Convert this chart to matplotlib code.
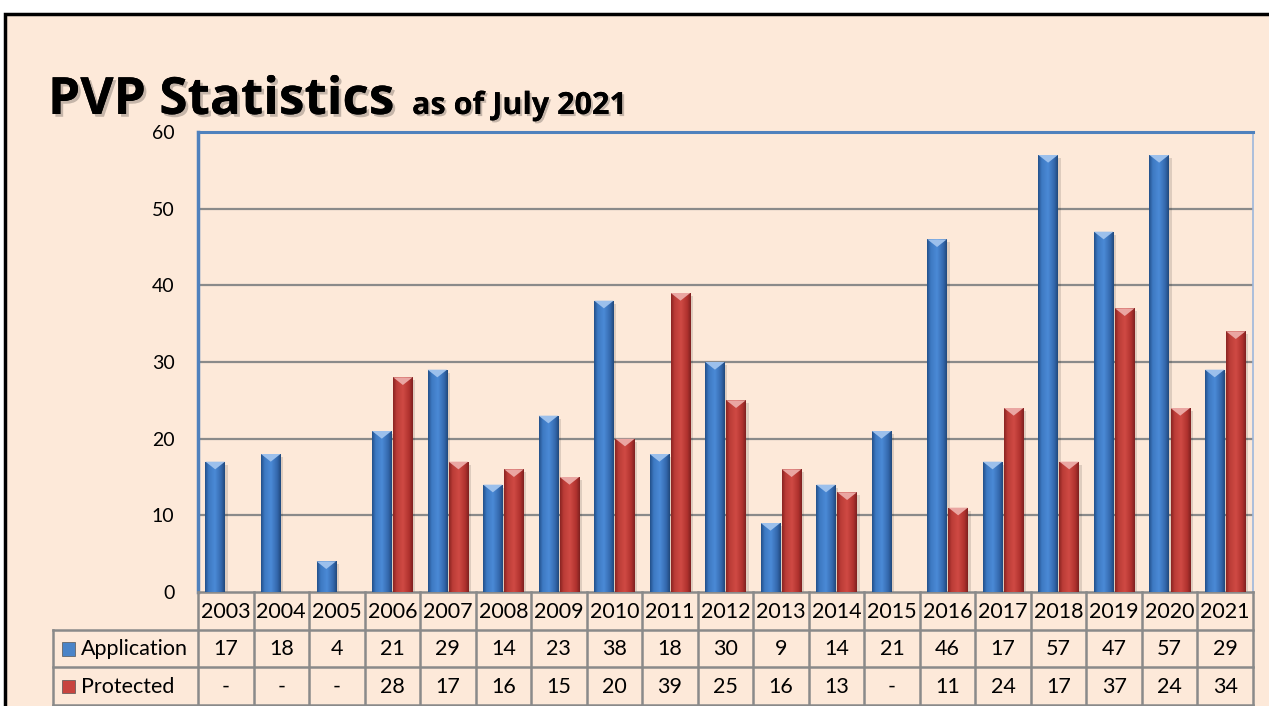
import matplotlib
matplotlib.use("Agg")
import matplotlib.pyplot as plt
import matplotlib.patheffects as pe
from matplotlib.colors import LinearSegmentedColormap
from matplotlib.patches import Rectangle, Polygon
import numpy as np

plt.rcParams["font.family"] = ["Lato", "DejaVu Sans"]

years = ["2003", "2004", "2005", "2006", "2007", "2008", "2009", "2010", "2011", "2012",
         "2013", "2014", "2015", "2016", "2017", "2018", "2019", "2020", "2021"]
application = [17, 18, 4, 21, 29, 14, 23, 38, 18, 30, 9, 14, 21, 46, 17, 57, 47, 57, 29]
protected = [None, None, None, 28, 17, 16, 15, 20, 39, 25, 16, 13, None, 11, 24, 17, 37, 24, 34]
series_names = ["Application", "Protected"]

W, H = 1269, 706
PEACH = "#FDE9D9"
GRID = "#8A8A8A"
AXBLUE = "#4F81BD"

blue_cmap = LinearSegmentedColormap.from_list(
    "b", [(0, "#23508a"), (0.18, "#3d79c2"), (0.5, "#4b8ad6"), (0.82, "#3468ad"), (1, "#21497d")])
red_cmap = LinearSegmentedColormap.from_list(
    "r", [(0, "#8a2422"), (0.18, "#bb3c37"), (0.5, "#cf4a44"), (0.82, "#b0322e"), (1, "#7f2120")])
top_colors = ["#9cc0ec", "#eaa6a2"]

fig = plt.figure(figsize=(W / 100, H / 100), dpi=100)
fig.patch.set_facecolor("white")
bg = fig.add_axes([0, 0, 1, 1], zorder=-10)
bg.axis("off")
bg.set_xlim(0, W)
bg.set_ylim(H, 0)
bg.add_patch(Rectangle((5, 14), W + 20, H + 20, facecolor=PEACH, edgecolor="black",
                       linewidth=2.5))

title_font = ["Open Sans", "DejaVu Sans"]
fig.text(48 / W, 1 - 114 / H, "PVP Statistics", fontsize=37, fontweight="bold",
         va="baseline", ha="left", family=title_font,
         path_effects=[pe.withSimplePatchShadow(offset=(2, -2), alpha=0.22), pe.Normal()])
fig.text(412 / W, 1 - 114 / H, "as of July 2021", fontsize=22, fontweight="bold",
         va="baseline", ha="left", family=title_font,
         path_effects=[pe.withSimplePatchShadow(offset=(1.5, -1.5), alpha=0.22), pe.Normal()])

ax = fig.add_axes([198 / W, (706 - 592) / H, 1055 / W, 460 / H])
ax.set_facecolor("none")
x = np.arange(len(years))
bw = 0.35
off = 0.19

grad = np.linspace(0, 1, 64).reshape(1, -1)
for vals, sign, cmap, tc in [(application, -1, blue_cmap, top_colors[0]),
                             (protected, 1, red_cmap, top_colors[1])]:
    v = np.array([np.nan if a is None else a for a in vals], dtype=float)
    bars = ax.bar(x + sign * off, np.nan_to_num(v), width=bw, color=cmap(0.5), zorder=3)
    for b, val in zip(bars, v):
        if np.isnan(val):
            b.set_visible(False)
            continue
        x0, w, h = b.get_x(), b.get_width(), b.get_height()
        im = ax.imshow(grad, cmap=cmap, extent=(x0, x0 + w, 0, h), aspect="auto", zorder=3.5)
        im.set_clip_path(b)
        # soft shadow on the right
        ax.add_patch(Rectangle((x0 + w, 0), 0.05, h - 0.4, facecolor="#000000", alpha=0.12,
                               zorder=2.5, linewidth=0))
        cap = min(1.0, h * 0.25)
        ax.add_patch(Polygon([(x0, h), (x0 + w, h), (x0 + w / 2, h - cap)], closed=True,
                             facecolor=tc, edgecolor="none", zorder=4))

ax.set_xlim(-0.5, len(years) - 0.5)
ax.set_ylim(0, 60)
ax.set_yticks(range(0, 61, 10))
ax.set_xticks([])
ax.tick_params(axis="y", length=0, pad=17, labelsize=14)
for yv in range(10, 60, 10):
    ax.axhline(yv, color=GRID, linewidth=1.6, zorder=1)
ax.spines["top"].set_color(AXBLUE)
ax.spines["top"].set_linewidth(2.2)
ax.spines["left"].set_color(AXBLUE)
ax.spines["left"].set_linewidth(2.5)
ax.spines["right"].set_color("#9db7dc")
ax.spines["right"].set_linewidth(1.2)
ax.spines["bottom"].set_color(GRID)
ax.spines["bottom"].set_linewidth(1.8)

# data table below the chart
lab_w = 145 / (1055 / len(years))
tax = fig.add_axes([53 / W, 1 / H, 1200 / W, (705 - 592) / H])
tax.set_xlim(-0.5 - lab_w, len(years) - 0.5)
tax.set_ylim(3, 0)
tax.axis("off")
lw = 1.8
for r in (1, 2, 3):
    tax.plot([-0.5 - lab_w, len(years) - 0.5], [r, r], color=GRID, linewidth=lw, clip_on=False)
for i in range(len(years) + 1):
    tax.plot([i - 0.5, i - 0.5], [0, 3], color=GRID, linewidth=lw, clip_on=False)
tax.plot([-0.5 - lab_w, -0.5 - lab_w], [1, 3], color=GRID, linewidth=lw, clip_on=False)

fs = 15.5
for i, yr in enumerate(years):
    tax.text(i, 0.52, yr, ha="center", va="center", fontsize=fs)
    tax.text(i, 1.52, str(application[i]), ha="center", va="center", fontsize=fs)
    p = protected[i]
    tax.text(i, 2.52, "-" if p is None else str(p), ha="center", va="center", fontsize=fs)

sq = 13 / (1055 / len(years))
for r, (name, col) in enumerate(zip(series_names, ["#4a84c8", "#c8443f"])):
    x0 = -0.5 - lab_w + 9 / (1055 / len(years))
    tax.add_patch(Rectangle((x0, r + 1.33), sq, 0.36, facecolor=col, edgecolor="#555555",
                            linewidth=0.5))
    tax.text(x0 + sq + 0.1, r + 1.52, name, ha="left", va="center", fontsize=fs)

fig.savefig("out.png", dpi=100)
